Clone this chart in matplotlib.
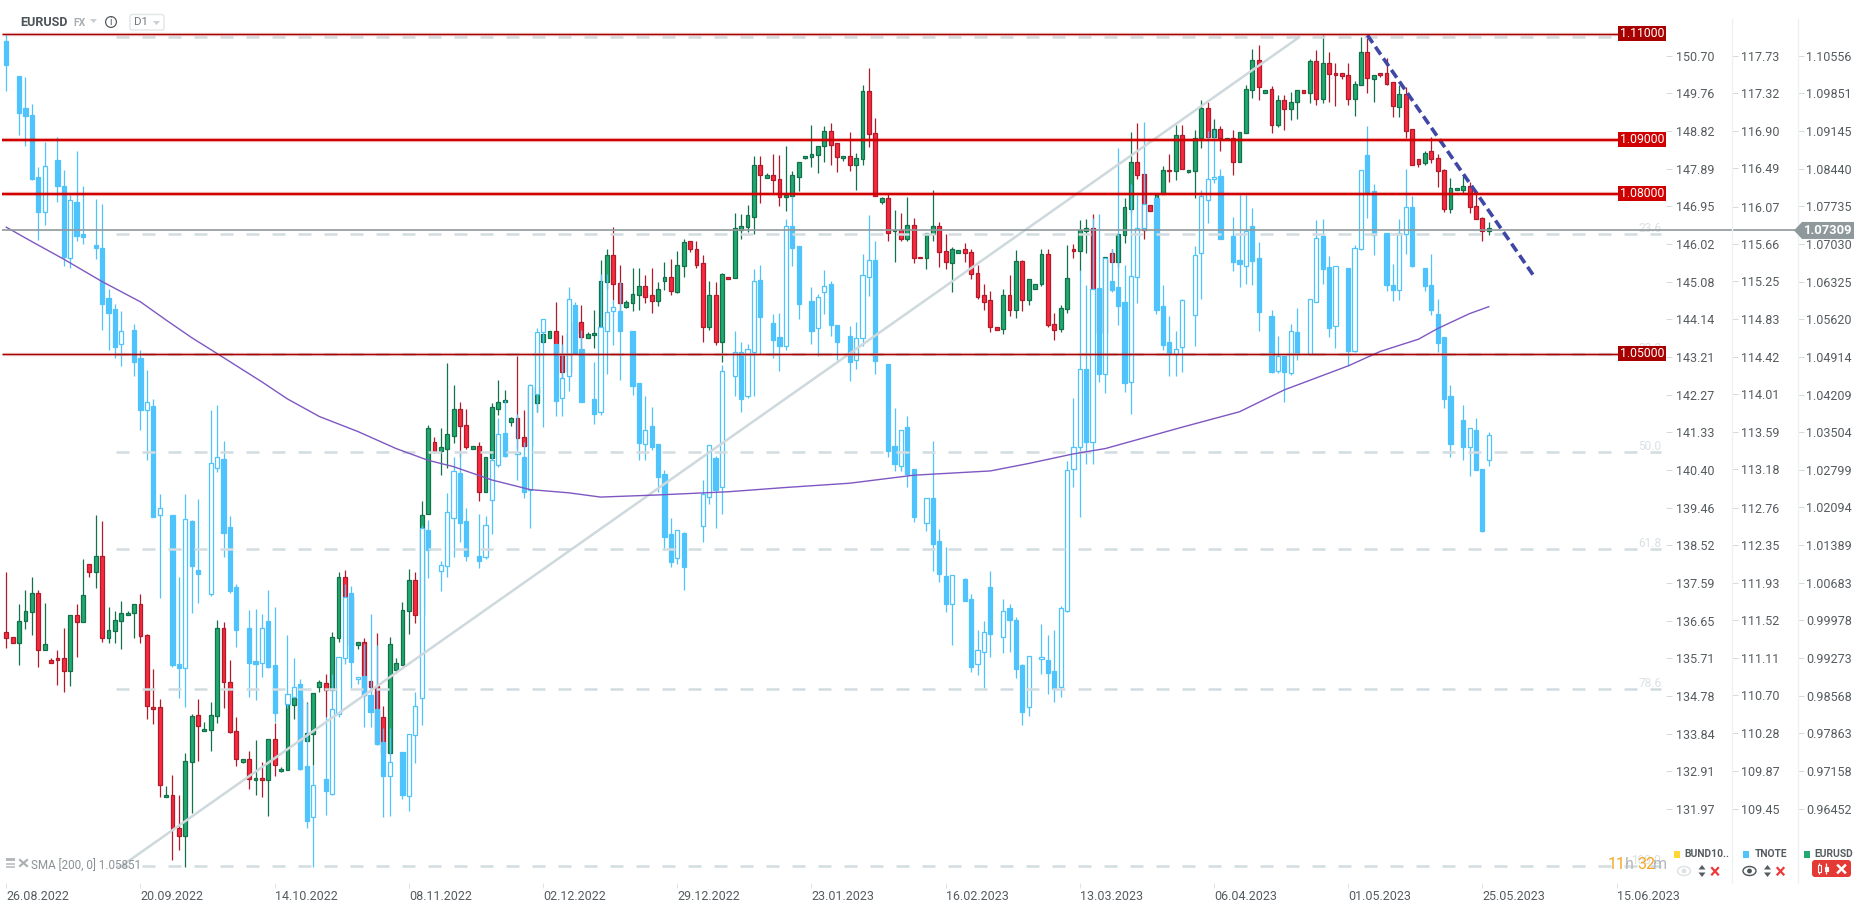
import numpy as np
import matplotlib
matplotlib.use("Agg")
import matplotlib.pyplot as plt
from matplotlib.patches import Circle, Ellipse, FancyBboxPatch, Polygon, Rectangle

nan = float("nan")

eur_open = [
    .9978, .9969, .9958, .9998, 1.0016, 1.0051, .9945, .9925, .9930, .9930,
    .9904, 1.0010, .9996, 1.0105, 1.0091, 1.0121, .9966, .9979, .9998, 1.0010,
    1.0013, 1.0030, .9972, .9838, .9837, .9668, .9673, .9610, .9595, .9735,
    .9822, .9792, .9795, .9820, .9986, .9885, .9793, .9735, .9739, .9701,
    .9705, .9701, .9778, .9718, .9720, .9842, .9855, .9774, .9786, .9874,
    .9883, .9870, .9966, 1.0082, 1.0044, .9953, .9960, .9887, .9876, .9818,
    .9752, .9906, .9917, 1.0018, 1.0075, 1.0010, 1.0199, 1.0335, 1.0318, 1.0322,
    1.0346, 1.0397, 1.0367, 1.0322, 1.0326, 1.0241, 1.0305, 1.0397, 1.0409, 1.0372,
    1.0379, 1.0343, 1.0327, 1.0408, 1.0522, 1.0530, 1.0542, 1.0498, 1.0466, 1.0538,
    1.0559, 1.0530, 1.0534, 1.0549, 1.0635, 1.0684, 1.0632, 1.0588, 1.0594, 1.0609,
    1.0626, 1.0609, 1.0598, 1.0637, 1.0643, 1.0616, 1.0664, 1.0711, 1.0696, 1.0669,
    1.0549, 1.0609, 1.0522, 1.0643, 1.0641, 1.0731, 1.0737, 1.0757, 1.0853, 1.0830,
    1.0834, 1.0827, 1.0793, 1.0795, 1.0832, 1.0866, 1.0868, 1.0872, 1.0889, 1.0917,
    1.0894, 1.0866, 1.0870, 1.0853, 1.0864, 1.0992, 1.0913, 1.0784, 1.0791, 1.0729,
    1.0731, 1.0714, 1.0742, 1.0682, 1.0680, 1.0725, 1.0739, 1.0692, 1.0669, 1.0688,
    1.0696, 1.0690, 1.0652, 1.0609, 1.0600, 1.0549, 1.0547, 1.0609, 1.0581, 1.0673,
    1.0600, 1.0622, 1.0630, 1.0686, 1.0555, 1.0547, 1.0583, 1.0697, 1.0692, 1.0729,
    1.0735, 1.0621, 1.0538, 1.0688, 1.0671, 1.0723, 1.0772, 1.0860, 1.0836, 1.0778,
    1.0791, 1.0799, 1.0845, 1.0842, 1.0909, 1.0840, 1.0842, 1.0904, 1.0960, 1.0907,
    1.0922, 1.0902, 1.0904, 1.0860, 1.0913, 1.0994, 1.1050, 1.0988, 1.0997, 1.0928,
    1.0975, 1.0958, 1.0971, 1.0995, 1.0988, 1.1048, 1.0977, 1.1044, 1.1026, 1.1026,
    1.1022, 1.0977, 1.1003, 1.1065, 1.1014, 1.1026, 1.1026, 1.1009, 1.0962, 1.0986,
    1.0921, 1.0864, 1.0857, 1.0879, 1.0866, 1.0844, 1.0772, 1.0806, 1.0807, 1.0815,
    1.0776, 1.0754, 1.0729]
eur_close = [
    .9966, .9958, .9999, 1.0018, 1.0051, .9945, .9955, .9919, .9926, .9904,
    1.0010, .9996, 1.0048, 1.0091, 1.0121, .9966, .9981, 1.0000, 1.0014, 1.0014,
    1.0030, .9970, .9840, .9833, .9692, .9673, .9608, .9595, .9737, .9820,
    .9801, .9797, .9822, .9986, .9885, .9790, .9739, .9739, .9703, .9705,
    .9701, .9778, .9728, .9722, .9844, .9855, .9774, .9788, .9864, .9885,
    .9870, .9968, 1.0082, 1.0044, .9953, .9960, .9860, .9874, .9769, .9752,
    .9956, .9919, 1.0020, 1.0075, 1.0010, 1.0198, 1.0360, 1.0318, 1.0324, 1.0349,
    1.0397, 1.0365, 1.0325, 1.0327, 1.0241, 1.0307, 1.0399, 1.0410, 1.0413, 1.0379,
    1.0341, 1.0327, 1.0438, 1.0438, 1.0536, 1.0542, 1.0498, 1.0466, 1.0538, 1.0559,
    1.0532, 1.0536, 1.0539, 1.0637, 1.0684, 1.0630, 1.0594, 1.0596, 1.0611, 1.0626,
    1.0607, 1.0598, 1.0621, 1.0643, 1.0617, 1.0666, 1.0709, 1.0696, 1.0667, 1.0549,
    1.0609, 1.0522, 1.0649, 1.0639, 1.0735, 1.0739, 1.0759, 1.0853, 1.0834, 1.0834,
    1.0825, 1.0793, 1.0797, 1.0834, 1.0860, 1.0870, 1.0874, 1.0890, 1.0917, 1.0892,
    1.0868, 1.0870, 1.0853, 1.0866, 1.0992, 1.0911, 1.0795, 1.0791, 1.0727, 1.0731,
    1.0714, 1.0742, 1.0680, 1.0679, 1.0727, 1.0739, 1.0690, 1.0671, 1.0697, 1.0694,
    1.0688, 1.0650, 1.0607, 1.0596, 1.0549, 1.0545, 1.0609, 1.0581, 1.0673, 1.0600,
    1.0639, 1.0630, 1.0686, 1.0553, 1.0545, 1.0585, 1.0641, 1.0692, 1.0731, 1.0735,
    1.0621, 1.0538, 1.0682, 1.0671, 1.0725, 1.0774, 1.0860, 1.0834, 1.0732, 1.0767,
    1.0800, 1.0845, 1.0842, 1.0909, 1.0847, 1.0844, 1.0905, 1.0960, 1.0907, 1.0922,
    1.0904, 1.0904, 1.0860, 1.0915, 1.0996, 1.1050, 1.0999, 1.0995, 1.0928, 1.0975,
    1.0958, 1.0971, 1.0994, 1.0988, 1.1048, 1.0977, 1.1044, 1.1024, 1.1022, 1.1020,
    1.0977, 1.1005, 1.1065, 1.1016, 1.1022, 1.1022, 1.1005, 1.0964, 1.0986, 1.0917,
    1.0853, 1.0855, 1.0877, 1.0864, 1.0842, 1.0772, 1.0810, 1.0810, 1.0815, 1.0774,
    1.0752, 1.0729, 1.0735]
eur_high = [
    1.0090, .9969, 1.0030, 1.0056, 1.0081, 1.0056, 1.0033, .9930, .9945, .9986,
    1.0010, 1.0030, 1.0115, 1.0106, 1.0198, 1.0187, 1.0024, 1.0018, 1.0037, 1.0018,
    1.0030, 1.0050, .9975, .9908, .9852, .9690, .9710, .9672, .9752, .9825,
    .9853, .9810, .9846, 1.0000, .9996, .9926, .9818, .9739, .9754, .9775,
    .9735, .9778, .9808, .9725, .9844, .9855, .9855, .9846, .9864, .9888,
    .9900, .9978, 1.0090, 1.0095, 1.0044, .9960, .9966, .9887, .9977, .9840,
    .9968, .9930, 1.0035, 1.0097, 1.0090, 1.0223, 1.0366, 1.0343, 1.0360, 1.0482,
    1.0441, 1.0409, 1.0397, 1.0327, 1.0334, 1.0307, 1.0407, 1.0450, 1.0432, 1.0382,
    1.0496, 1.0395, 1.0438, 1.0438, 1.0536, 1.0542, 1.0596, 1.0535, 1.0538, 1.0559,
    1.0591, 1.0541, 1.0582, 1.0676, 1.0697, 1.0737, 1.0666, 1.0601, 1.0660, 1.0660,
    1.0647, 1.0660, 1.0634, 1.0672, 1.0677, 1.0692, 1.0715, 1.0711, 1.0712, 1.0684,
    1.0637, 1.0634, 1.0651, 1.0643, 1.0763, 1.0762, 1.0778, 1.0870, 1.0870, 1.0838,
    1.0875, 1.0872, 1.0889, 1.0842, 1.0860, 1.0870, 1.0928, 1.0890, 1.0926, 1.0932,
    1.0894, 1.0870, 1.0915, 1.0877, 1.1003, 1.1035, 1.0941, 1.0794, 1.0800, 1.0769,
    1.0763, 1.0793, 1.0755, 1.0682, 1.0727, 1.0806, 1.0746, 1.0724, 1.0699, 1.0694,
    1.0707, 1.0697, 1.0666, 1.0630, 1.0617, 1.0549, 1.0621, 1.0647, 1.0694, 1.0675,
    1.0639, 1.0630, 1.0696, 1.0696, 1.0576, 1.0592, 1.0703, 1.0705, 1.0750, 1.0752,
    1.0761, 1.0621, 1.0682, 1.0696, 1.0725, 1.0791, 1.0915, 1.0932, 1.0836, 1.0778,
    1.0802, 1.0851, 1.0874, 1.0929, 1.0928, 1.0845, 1.0919, 1.0975, 1.0971, 1.0939,
    1.0926, 1.0904, 1.0919, 1.0915, 1.1003, 1.1071, 1.1079, 1.0995, 1.1002, 1.0985,
    1.0985, 1.0990, 1.0995, 1.0995, 1.1052, 1.1069, 1.1097, 1.1065, 1.1044, 1.1026,
    1.1044, 1.1011, 1.1093, 1.1091, 1.1022, 1.1026, 1.1055, 1.1009, 1.1003, 1.0999,
    1.0921, 1.0864, 1.0879, 1.0907, 1.0875, 1.0847, 1.0830, 1.0810, 1.0834, 1.0822,
    1.0804, 1.0757, 1.0746]
eur_low = [
    .9948, .9958, .9916, .9983, .9973, .9913, .9945, .9919, .9879, .9866,
    .9877, .9931, .9996, 1.0081, 1.0061, .9960, .9958, .9958, .9947, 1.0009,
    .9966, .9958, .9815, .9806, .9669, .9668, .9550, .9569, .9538, .9638,
    .9736, .9792, .9755, .9808, .9835, .9788, .9727, .9733, .9683, .9672,
    .9669, .9633, .9708, .9716, .9720, .9814, .9774, .9774, .9728, .9865,
    .9819, .9869, .9960, 1.0044, .9953, .9947, .9857, .9866, .9769, .9719,
    .9752, .9901, .9917, .9975, .9995, 1.0010, 1.0199, 1.0314, 1.0272, 1.0285,
    1.0332, 1.0307, 1.0322, 1.0322, 1.0224, 1.0241, 1.0304, 1.0384, 1.0409, 1.0365,
    1.0322, 1.0327, 1.0327, 1.0391, 1.0522, 1.0530, 1.0498, 1.0450, 1.0466, 1.0538,
    1.0510, 1.0530, 1.0510, 1.0538, 1.0622, 1.0601, 1.0579, 1.0585, 1.0579, 1.0582,
    1.0594, 1.0577, 1.0590, 1.0619, 1.0609, 1.0614, 1.0643, 1.0690, 1.0660, 1.0522,
    1.0544, 1.0517, 1.0485, 1.0639, 1.0641, 1.0715, 1.0728, 1.0724, 1.0783, 1.0829,
    1.0800, 1.0777, 1.0768, 1.0794, 1.0805, 1.0864, 1.0849, 1.0838, 1.0860, 1.0854,
    1.0841, 1.0861, 1.0843, 1.0806, 1.0854, 1.0888, 1.0795, 1.0780, 1.0712, 1.0672,
    1.0712, 1.0712, 1.0669, 1.0679, 1.0658, 1.0711, 1.0663, 1.0658, 1.0616, 1.0688,
    1.0671, 1.0640, 1.0602, 1.0581, 1.0540, 1.0545, 1.0536, 1.0571, 1.0566, 1.0579,
    1.0592, 1.0622, 1.0626, 1.0549, 1.0526, 1.0541, 1.0577, 1.0680, 1.0655, 1.0688,
    1.0621, 1.0538, 1.0538, 1.0671, 1.0663, 1.0707, 1.0763, 1.0828, 1.0715, 1.0767,
    1.0791, 1.0799, 1.0821, 1.0826, 1.0847, 1.0839, 1.0791, 1.0886, 1.0907, 1.0907,
    1.0879, 1.0902, 1.0834, 1.0860, 1.0913, 1.0979, 1.0975, 1.0988, 1.0913, 1.0925,
    1.0919, 1.0938, 1.0940, 1.0988, 1.0969, 1.0967, 1.0969, 1.0972, 1.0965, 1.1015,
    1.0967, 1.0946, 1.1003, 1.0989, 1.0971, 1.1018, 1.1003, 1.0944, 1.0943, 1.0904,
    1.0853, 1.0849, 1.0853, 1.0857, 1.0813, 1.0766, 1.0763, 1.0806, 1.0799, 1.0763,
    1.0752, 1.0711, 1.0722]

# TNOTE has no Sunday bar, so those slots stay empty
tnote_open = [
    117.89, nan, 117.50, 117.15, 117.08, 116.39, 116.01, nan, 116.58, 116.30,
    115.50, 116.12, 115.77, nan, 115.65, 115.61, 115.06, 114.94, 114.56, nan,
    114.71, 114.40, 113.83, 113.88, 112.68, nan, 112.68, 111.04, 110.99, 112.61,
    112.07, nan, 111.81, 113.19, 113.29, 112.54, 111.88, nan, 111.43, 111.07,
    111.05, 111.51, 111.03, nan, 110.60, 110.68, 110.82, 109.92, 109.36, nan,
    109.77, 109.61, 110.49, 111.10, 111.82, 110.87, 110.91, 110.70, 110.54, 110.18,
    109.81, nan, 110.07, 109.59, 110.26, 110.66, 112.51, nan, 112.06, 112.12,
    112.64, 113.14, 112.61, nan, 112.23, 112.22, 112.84, 113.23, 113.58, nan,
    113.35, 113.32, 112.95, 114.01, 114.69, nan, 114.56, 113.96, 114.20, 114.99,
    114.50, nan, 113.95, 113.81, 114.70, 114.92, 114.92, nan, 114.70, 114.13,
    113.46, 113.66, 113.46, 113.13, 112.47, 112.20, 112.48, nan, nan, 112.56,
    112.87, 113.30, 112.99, nan, 114.20, 114.47, 113.98, 114.47, 115.26, nan,
    114.79, 114.63, 114.54, 115.85, 115.63, nan, 115.03, 114.73, 115.13, 115.22,
    114.77, nan, 114.64, 114.38, 114.62, 115.29, 115.48, nan, 114.34, 113.44,
    113.22, 113.64, 113.18, nan, 112.59, 112.86, 112.39, 112.01, 111.70, nan,
    111.97, 111.75, 111.04, 111.17, 111.88, nan, 111.34, 111.65, 111.52, 111.03,
    110.56, nan, 111.09, 111.08, 110.96, 110.78, 111.62, 113.18, 113.43, 114.28,
    113.48, 115.17, 114.23, 115.25, 115.18, 115.02, 114.14, 115.29, 115.83, nan,
    116.16, 114.97, 114.58, 114.45, 114.52, nan, 114.88, 115.56, 116.14, 116.37,
    116.41, nan, 115.75, 115.48, 115.42, 115.86, 115.50, nan, 114.87, 114.26,
    114.43, 114.24, 114.69, nan, 114.45, 115.02, 115.74, 115.40, 114.75, nan,
    115.39, 114.48, 115.60, 116.64, 116.24, nan, 115.78, 115.21, 115.15, 115.77,
    116.06, nan, 115.39, 115.21, 114.89, 114.63, 113.99, nan, 113.72, 113.42,
    113.61, 113.18, 113.28]
tnote_close = [
    117.62, nan, 117.10, 117.06, 116.37, 116.01, 116.52, nan, 116.30, 115.51,
    116.14, 115.74, 115.73, nan, 115.61, 115.00, 114.90, 114.52, 114.70, nan,
    114.36, 113.83, 113.92, 112.65, 112.75, nan, 111.03, 110.99, 112.63, 112.12,
    112.03, nan, 113.25, 113.32, 112.48, 111.84, 111.41, nan, 111.05, 111.04,
    111.43, 111.00, 110.50, nan, 110.71, 110.79, 109.88, 109.31, 109.71, nan,
    109.64, 110.54, 111.11, 111.77, 111.06, 110.90, 110.70, 110.51, 110.16, 109.81,
    109.96, nan, 109.60, 110.27, 110.58, 112.53, 112.29, nan, 112.13, 112.71,
    113.16, 112.59, 112.23, nan, 112.17, 112.57, 113.28, 113.57, 113.33, nan,
    113.37, 112.93, 114.11, 114.69, 114.83, nan, 113.93, 114.18, 115.05, 114.46,
    113.92, nan, 113.79, 114.74, 114.91, 114.96, 114.70, nan, 114.10, 113.47,
    113.61, 113.43, 113.10, 112.44, 112.16, 112.51, 112.10, nan, nan, 112.91,
    113.45, 112.95, 114.26, nan, 114.47, 113.95, 114.50, 115.25, 114.85, nan,
    114.60, 114.54, 115.86, 115.61, 115.00, nan, 114.70, 115.07, 115.19, 114.77,
    114.58, nan, 114.36, 114.62, 115.32, 115.48, 114.37, nan, 113.38, 113.24,
    113.61, 113.13, 112.65, nan, 112.86, 112.36, 112.03, 111.70, 112.02, nan,
    111.73, 111.00, 111.19, 111.39, 111.37, nan, 111.62, 111.52, 110.98, 110.51,
    111.13, nan, 111.11, 110.94, 110.76, 111.65, 113.17, 113.43, 114.28, 113.48,
    115.16, 114.23, 115.50, 115.15, 114.98, 114.13, 115.30, 115.83, 116.10, nan,
    114.93, 114.55, 114.45, 114.50, 115.04, nan, 115.54, 116.19, 116.37, 116.39,
    115.71, nan, 115.46, 115.44, 115.80, 115.47, 114.91, nan, 114.25, 114.43,
    114.25, 114.70, 114.45, nan, 115.05, 115.72, 115.38, 114.73, 115.42, nan,
    114.48, 115.61, 116.47, 116.22, 115.76, nan, 115.21, 115.15, 115.78, 116.06,
    115.42, nan, 115.20, 114.93, 114.57, 113.95, 113.46, nan, 113.42, 113.63,
    113.17, 112.50, 113.56]
tnote_high = [
    117.96, nan, 117.50, 117.49, 117.20, 116.50, 116.78, nan, 116.83, 116.47,
    116.20, 116.68, 116.30, nan, 116.15, 116.10, 115.16, 115.00, 114.92, nan,
    114.78, 114.49, 114.27, 113.95, 112.91, nan, 112.68, 112.00, 112.91, 112.62,
    112.85, nan, 113.83, 113.89, 113.49, 112.67, 111.92, nan, 111.63, 111.64,
    111.59, 111.85, 111.67, nan, 111.36, 111.10, 110.87, 110.61, 109.93, nan,
    110.46, 110.93, 111.11, 111.92, 111.90, 110.90, 111.26, 111.59, 111.25, 110.33,
    110.33, nan, 110.07, 110.27, 110.73, 112.57, 112.62, nan, 112.17, 112.92,
    113.31, 113.39, 112.75, nan, 112.69, 112.67, 113.35, 113.74, 113.94, nan,
    113.79, 113.48, 114.12, 114.73, 114.83, nan, 114.56, 114.56, 115.18, 115.02,
    114.71, nan, 114.36, 115.33, 115.33, 115.04, 115.24, nan, 114.70, 114.13,
    113.99, 113.86, 113.46, 113.17, 112.64, 112.51, 112.49, nan, nan, 113.06,
    113.45, 113.33, 114.33, nan, 114.70, 114.58, 114.56, 115.38, 115.43, nan,
    114.89, 114.90, 115.93, 116.18, 115.63, nan, 115.18, 115.11, 115.37, 115.25,
    114.77, nan, 114.75, 114.80, 115.55, 115.98, 115.69, nan, 114.34, 113.85,
    113.61, 113.76, 113.18, nan, 112.86, 113.49, 112.52, 112.32, 112.02, nan,
    111.98, 111.81, 111.41, 111.51, 112.06, nan, 111.75, 111.70, 111.56, 111.04,
    111.13, nan, 111.48, 111.36, 111.41, 111.68, 113.27, 113.96, 115.37, 115.21,
    115.94, 115.99, 115.50, 115.60, 116.71, 115.43, 116.32, 116.20, 117.00, nan,
    116.18, 115.21, 114.86, 114.70, 115.05, nan, 115.63, 116.25, 116.90, 116.91,
    116.48, nan, 115.95, 116.20, 116.20, 116.05, 115.68, nan, 114.93, 114.64,
    114.43, 114.78, 114.95, nan, 115.05, 115.92, 115.93, 115.52, 115.42, nan,
    115.39, 115.65, 116.47, 116.95, 116.32, nan, 115.78, 115.44, 115.93, 116.48,
    116.18, nan, 115.39, 115.55, 115.05, 114.63, 114.11, nan, 113.89, 113.63,
    113.74, 113.18, 113.59]
tnote_low = [
    117.34, nan, 116.86, 116.73, 116.36, 115.70, 115.87, nan, 116.12, 115.42,
    115.39, 115.69, 115.66, nan, 115.49, 114.71, 114.49, 114.40, 114.31, nan,
    114.20, 113.61, 113.28, 112.65, 111.76, nan, 111.00, 110.66, 110.57, 111.60,
    111.71, nan, 111.79, 113.15, 112.22, 111.82, 111.23, nan, 110.68, 110.64,
    110.90, 110.99, 110.40, nan, 110.55, 110.66, 109.87, 109.24, 108.81, nan,
    109.38, 109.60, 110.46, 111.04, 110.77, 110.82, 110.35, 110.35, 110.15, 109.36,
    109.37, nan, 109.55, 109.42, 109.95, 110.37, 111.98, nan, 111.84, 111.99,
    112.22, 112.38, 112.17, nan, 112.09, 112.19, 112.47, 113.21, 113.32, nan,
    113.06, 112.86, 112.53, 113.81, 113.64, nan, 113.77, 113.76, 114.04, 114.45,
    113.92, nan, 113.68, 113.78, 114.23, 114.55, 114.16, nan, 114.00, 113.28,
    113.28, 113.39, 112.93, 112.29, 112.11, 112.14, 111.85, nan, nan, 112.38,
    112.80, 112.53, 112.69, nan, 113.98, 113.81, 113.96, 113.98, 114.45, nan,
    114.40, 114.26, 114.49, 115.42, 114.83, nan, 114.56, 114.42, 114.89, 114.65,
    114.38, nan, 114.15, 114.28, 114.53, 115.08, 114.23, nan, 113.32, 113.16,
    113.16, 112.99, 112.60, nan, 112.50, 112.06, 111.94, 111.61, 111.25, nan,
    111.73, 110.95, 110.92, 110.77, 111.12, nan, 111.16, 111.17, 110.88, 110.37,
    110.47, nan, 110.93, 110.71, 110.62, 110.68, 111.61, 112.99, 112.65, 113.24,
    113.24, 114.14, 114.02, 115.13, 114.77, 114.03, 113.79, 115.01, 115.81, nan,
    114.89, 114.49, 114.20, 114.20, 114.25, nan, 114.54, 115.05, 115.89, 116.33,
    115.71, nan, 115.36, 115.18, 115.22, 115.21, 114.70, nan, 114.24, 114.24,
    113.92, 114.22, 114.38, nan, 114.44, 115.02, 115.22, 114.63, 114.51, nan,
    114.31, 114.47, 115.59, 115.94, 115.54, nan, 115.14, 115.03, 115.04, 115.55,
    115.40, nan, 115.14, 114.88, 114.47, 113.85, 113.32, nan, 113.28, 113.11,
    113.17, 112.49, 113.22]

# 200 day average, read at these bar slots
sma_slots = [0, 4, 9, 15, 21, 25, 29, 33, 40, 44, 49, 55, 61, 66, 70, 76, 82, 88, 93,
             102, 113, 122, 132, 142, 154, 160, 167, 172, 184, 193, 200, 210, 215,
             221, 224, 229, 232]
sma_values = [1.0737, 1.0710, 1.0677, 1.0635, 1.0597, 1.0563, 1.0530, 1.0500, 1.0447,
              1.0415, 1.0382, 1.0354, 1.0322, 1.0300, 1.0288, 1.0263, 1.0245, 1.0239,
              1.0231, 1.0235, 1.0241, 1.0249, 1.0257, 1.0272, 1.0280, 1.0294, 1.0312,
              1.0322, 1.0362, 1.0391, 1.0432, 1.0477, 1.0504, 1.0527, 1.0547, 1.0575,
              1.0588]

levels = [1.11, 1.09, 1.08, 1.05]
level_labels = ["1.11000", "1.09000", "1.08000", "1.05000"]
level_colors = ["#a80000", "#d00000", "#d00000", "#a80000"]
level_widths = [1.0, 1.7, 1.7, 1.0]
last_price = 1.07309

fib_levels = [1.1093, 1.0725, 1.0499, 1.0315, 1.0133, .9871, .9539]
fib_labels = ["", "23.6", "38.2", "50.0", "61.8", "78.6", "100.0"]
fib_line_slots = [18, 202.3]
fib_line_values = [.9539, 1.1093]
down_line_slots = [213, 239.2]
down_line_values = [1.1097, 1.0643]

date_slots = [0, 21, 42, 63, 84, 105, 126, 147, 168, 189, 210, 231, 252]
date_labels = ["26.08.2022", "20.09.2022", "14.10.2022", "08.11.2022", "02.12.2022",
               "29.12.2022", "23.01.2023", "16.02.2023", "13.03.2023", "06.04.2023",
               "01.05.2023", "25.05.2023", "15.06.2023"]

jpy_ticks = ["150.70", "149.76", "148.82", "147.89", "146.95", "146.02", "145.08",
             "144.14", "143.21", "142.27", "141.33", "140.40", "139.46", "138.52",
             "137.59", "136.65", "135.71", "134.78", "133.84", "132.91", "131.97"]
tnote_ticks = ["117.73", "117.32", "116.90", "116.49", "116.07", "115.66", "115.25",
               "114.83", "114.42", "114.01", "113.59", "113.18", "112.76", "112.35",
               "111.93", "111.52", "111.11", "110.70", "110.28", "109.87", "109.45"]
eur_ticks = ["1.10556", "1.09851", "1.09145", "1.08440", "1.07735", "1.07030", "1.06325",
             "1.05620", "1.04914", "1.04209", "1.03504", "1.02799", "1.02094", "1.01389",
             "1.00683", "0.99978", "0.99273", "0.98568", "0.97863", "0.97158", "0.96452"]

W, H = 1866, 909
PLOT_W, PLOT_H = 1666, 883
GREEN, GREEN_DK = "#22a96f", "#12704a"
RED, RED_DK = "#f72a3e", "#b01a2a"
BLUE = "#4fc3fb"
TEXT = "#555c60"

plt.rcParams["font.family"] = ["Roboto", "DejaVu Sans"]


def px_axes(left, top, width, height, **kw):
    return fig.add_axes([left / W, 1 - (top + height) / H, width / W, height / H], **kw)


def draw_candles(ax, o, c, hi, lo, up, down, up_edge, down_edge, width, z):
    o, c, hi, lo = map(np.array, (o, c, hi, lo))
    slots = np.arange(len(o))
    rising = c >= o
    ax.vlines(slots[rising], lo[rising], hi[rising], color=up_edge, lw=0.9, zorder=z)
    ax.vlines(slots[~rising], lo[~rising], hi[~rising], color=down_edge, lw=0.9, zorder=z)
    ax.bar(slots[rising], (c - o)[rising], bottom=o[rising], width=width, color=up,
           edgecolor=up_edge, linewidth=0.9, zorder=z + 1)
    ax.bar(slots[~rising], (o - c)[~rising], bottom=c[~rising], width=width, color=down,
           edgecolor=down_edge, linewidth=0.9, zorder=z + 1)


def price_column(right_edge, labels, pad):
    # thin axes whose right edge carries the ticks of one price scale
    col = px_axes(right_edge - 1, 0, 1, PLOT_H)
    col.set_frame_on(False)
    col.set_xticks([])
    col.yaxis.tick_right()
    first, last = float(labels[0]), float(labels[-1])
    step = (first - last) / (808.7 - 55.7)
    top = first + 55.7 * step
    col.set_ylim(top - PLOT_H * step, top)
    col.set_yticks([float(v) for v in labels])
    col.set_yticklabels(labels)
    col.tick_params(axis="y", length=4.3, width=0.7, color="#d5d9db", pad=pad,
                    labelsize=9.0, labelcolor=TEXT)


fig = plt.figure(figsize=(W / 100, H / 100), dpi=100, facecolor="white")

# one bar slot is 6.39 px wide, the first bar sits at x = 6.3
ax = px_axes(0, 0, PLOT_W, PLOT_H)
ax.set_xlim(-6.3 / 6.39, (PLOT_W - 6.3) / 6.39)
ax.set_ylim(.95074, 1.1163)
for side in ax.spines.values():
    side.set_visible(False)
ax.set_yticks([])
ax.set_xticks(date_slots)
ax.set_xticklabels(date_labels, ha="left")
ax.tick_params(axis="x", length=3.6, width=0.7, color="#dfe3e5", pad=1.5,
               labelsize=9.0, labelcolor=TEXT)
draw_candles(ax, eur_open, eur_close, eur_high, eur_low, GREEN, RED, GREEN_DK, RED_DK, 0.6, 2)

ax_tn = ax.twinx()
ax_tn.set_ylim(108.63, 118.34)
ax_tn.axis("off")
draw_candles(ax_tn, tnote_open, tnote_close, tnote_high, tnote_low, "white", BLUE, BLUE, BLUE, 0.66, 2)

# drawing tools and the SMA sit above the candles
ax_top = ax.twinx()
ax_top.set_ylim(ax.get_ylim())
ax_top.axis("off")
ax_top.hlines(fib_levels, 17.1, 259, color="#d3dce0", lw=1.8, linestyles=(0, (5.2, 5.2)), zorder=3)
ax_top.plot(fib_line_slots, fib_line_values, color="#ced9dd", lw=1.8, zorder=4)
ax_top.plot(sma_slots, sma_values, color="#7e57c2", lw=1.0, zorder=5)
ax_top.plot(down_line_slots, down_line_values, color="#3f48a5", lw=2.6,
            linestyle=(0, (2.6, 1.3)), zorder=6)
for lvl, col, lw in zip(levels, level_colors, level_widths):
    ax_top.hlines(lvl, -0.6, 254, color=col, lw=lw + 1.4, alpha=0.2, zorder=7)
    ax_top.hlines(lvl, -0.6, 254, color=col, lw=lw, zorder=7)
ax_top.hlines(last_price, -0.6, 280, color="#8f989b", lw=1.2, zorder=7, clip_on=False)
for lvl, txt in zip(fib_levels, fib_labels):
    ax_top.text(259, lvl + .00105, txt, ha="right", va="center", color="#dbe1e4",
                fontsize=8.6, zorder=4)

price_column(1666, jpy_ticks, 2.9)
price_column(1732, tnote_ticks, 2.2)
price_column(1798, eur_ticks, 1.4)

# interface parts drawn in figure pixels
ui = px_axes(0, 0, W, H)
ui.set_xlim(0, W)
ui.set_ylim(H, 0)
ui.axis("off")
ui.patch.set_alpha(0)

ui.vlines([1732, 1798], 18, 883, color="#eef1f2", lw=1)

for lvl, txt, col in zip(levels, level_labels, level_colors):
    y_lvl = H - ax_top.transData.transform((0, lvl))[1]
    ui.add_patch(Rectangle((1618, y_lvl - 8), 48, 15, fc=col, ec="none", zorder=5))
    ui.text(1642, y_lvl - 0.5, txt, color="white", fontsize=8.8, ha="center", va="center", zorder=6)

ui.text(20, 22, "EURUSD", fontsize=9, fontweight="bold", color="#4d5559", va="center")
ui.text(73, 22.5, "FX", fontsize=7.5, fontweight="bold", color="#a7afb3", va="center")
ui.add_patch(Polygon([[90, 19], [97, 19], [93.5, 23]], fc="#c8ced1", ec="none"))
ui.add_patch(Circle((111, 22), 5.4, fc="white", ec="#555c60", lw=0.9))
ui.text(111, 22, "i", fontsize=7.5, color="#555c60", ha="center", va="center")
ui.add_patch(FancyBboxPatch((130, 14.5), 34, 15.5, boxstyle="round,pad=0,rounding_size=2",
                            fc="white", ec="#e3e6e8", lw=1))
ui.text(134, 22, "D1", fontsize=8.2, color="#70777b", va="center")
ui.add_patch(Polygon([[153, 21], [160, 21], [156.5, 25]], fc="#c8ced1", ec="none"))

y_last = H - ax_top.transData.transform((0, last_price))[1]
ui.add_patch(Polygon([[1794, y_last], [1802, y_last - 8.5], [1854, y_last - 8.5],
                      [1854, y_last + 8.5], [1802, y_last + 8.5]], fc="#8f989b", ec="none", zorder=5))
ui.text(1828, y_last, "1.07309", color="white", fontsize=9.4, fontweight="bold",
        ha="center", va="center", zorder=6)

# SMA legend
ui.add_patch(Rectangle((6, 858), 9, 3, fc="#b5b9bb", ec="none"))
ui.add_patch(Rectangle((6, 862.5), 9, 2, fc="#c5c9cb", ec="none"))
ui.add_patch(Rectangle((6, 866), 9, 1.5, fc="#c5c9cb", ec="none"))
ui.plot([20, 27], [860, 866], color="#a9aeb0", lw=1.5)
ui.plot([20, 27], [866, 860], color="#a9aeb0", lw=1.5)
ui.text(31, 866, "SMA [200, 0] 1.05851", fontsize=8.4, color="#8b9194", va="center")

# time to close
ui.text(1608, 864.5, "11", color="#f5a623", fontsize=11.5, va="center")
ui.text(1625, 864.5, "h", color="#b3b8ba", fontsize=11.5, va="center")
ui.text(1637, 864.5, "32", color="#f5a623", fontsize=11.5, va="center")
ui.text(1653, 864.5, "m", color="#b3b8ba", fontsize=11.5, va="center")

# instrument legend
for x, name, col, tx in [(1677, "BUND10..", "#fdd835", 1684), (1746, "TNOTE", BLUE, 1755),
                         (1807, "EURUSD", GREEN, 1814)]:
    ui.add_patch(Rectangle((x - 3, 850.5), 6, 7, fc=col, ec="none"))
    ui.text(tx, 854, name, fontsize=7.4, fontweight="bold", color="#555c60", va="center")
for x, eye_col in [(1684, "#dde2e4"), (1749.5, "#4d5559")]:
    ui.add_patch(Ellipse((x, 871), 13, 9, fc="white", ec=eye_col, lw=1))
    ui.add_patch(Circle((x, 871), 2.4, fc=eye_col, ec="none"))
    ax_x = x + 18
    ui.add_patch(Polygon([[ax_x - 3.5, 869.5], [ax_x + 3.5, 869.5], [ax_x, 865]], fc="#555c60", ec="none"))
    ui.add_patch(Polygon([[ax_x - 3.5, 872.5], [ax_x + 3.5, 872.5], [ax_x, 877]], fc="#555c60", ec="none"))
    ui.plot([x + 28, x + 34], [868, 874.5], color="#ec3a3a", lw=1.6)
    ui.plot([x + 28, x + 34], [874.5, 868], color="#ec3a3a", lw=1.6)
ui.add_patch(FancyBboxPatch((1812, 860), 39, 17, boxstyle="round,pad=0,rounding_size=3",
                            fc="#e53935", ec="none"))
ui.vlines([1819, 1826], 863, 874, color="white", lw=0.9)
ui.add_patch(Rectangle((1817.5, 865), 3, 6.5, fc="#e53935", ec="white", lw=0.8, zorder=5))
ui.add_patch(Rectangle((1824.5, 867), 3, 4, fc="white", ec="white", lw=0.8, zorder=5))
ui.plot([1838, 1845], [865.5, 872.5], color="white", lw=1.8)
ui.plot([1838, 1845], [872.5, 865.5], color="white", lw=1.8)

fig.savefig("out.png", dpi=100, facecolor="white")
